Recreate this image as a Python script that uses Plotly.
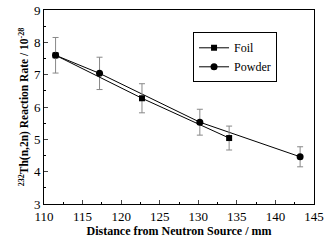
import plotly.graph_objects as go

foil_x = [111.5, 122.7, 134.0]
foil_y = [7.6, 6.27, 5.04]
foil_err = [0.55, 0.45, 0.37]

powder_x = [111.5, 117.2, 130.2, 143.2]
powder_y = [7.6, 7.04, 5.53, 4.46]
powder_err = [0.0, 0.5, 0.4, 0.31]

x_ticks = [110, 115, 120, 125, 130, 135, 140, 145]
y_ticks = [3, 4, 5, 6, 7, 8, 9]

font = "Liberation Serif, Times New Roman, serif"

fig = go.Figure()
fig.add_trace(go.Scatter(
    x=powder_x, y=powder_y, name="Powder", mode="lines+markers",
    line=dict(color="black", width=1),
    marker=dict(symbol="circle", size=7, color="black"),
    error_y=dict(type="data", array=powder_err, color="#888888", thickness=1, width=3),
))
fig.add_trace(go.Scatter(
    x=foil_x, y=foil_y, name="Foil", mode="lines+markers",
    line=dict(color="black", width=1),
    marker=dict(symbol="square", size=6, color="black"),
    error_y=dict(type="data", array=foil_err, color="#888888", thickness=1, width=3),
))

fig.update_layout(
    width=335, height=243,
    margin=dict(l=44, r=21, t=10, b=39, autoexpand=False),
    paper_bgcolor="white", plot_bgcolor="white",
    font=dict(family=font, color="black", size=12),
    showlegend=True,
    legend=dict(
        x=0.552, y=0.885, xanchor="left", yanchor="top",
        bordercolor="black", borderwidth=1, bgcolor="white",
        font=dict(size=12, family=font), traceorder="reversed",
        itemwidth=30, tracegroupgap=0,
    ),
    xaxis=dict(
        range=[110, 145], tickvals=x_ticks, ticks="inside", ticklen=4,
        showline=True, linecolor="black", linewidth=1, mirror=True,
        showgrid=False, zeroline=False, automargin=False,
        minor=dict(ticks="inside", ticklen=2, dtick=2.5, tickcolor="black"),
        title=dict(text="<b>Distance from Neutron Source / mm</b>", font=dict(size=12, family=font), standoff=2),
        tickfont=dict(size=13, family=font),
    ),
    yaxis=dict(
        range=[3, 9], tickvals=y_ticks, ticks="inside", ticklen=4,
        showline=True, linecolor="black", linewidth=1, mirror=True,
        showgrid=False, zeroline=False, automargin=False,
        minor=dict(ticks="inside", ticklen=2, dtick=0.5, tickcolor="black"),
        title=dict(text="<b><sup>232</sup>Th(n,2n) Reaction Rate / 10<sup>-28</sup></b>", font=dict(size=11.5, family=font), standoff=2),
        tickfont=dict(size=13, family=font),
    ),
)

fig.write_html("out.html", config={"displayModeBar": False},
               post_script="document.body.style.margin='0';document.body.style.padding='0';")
